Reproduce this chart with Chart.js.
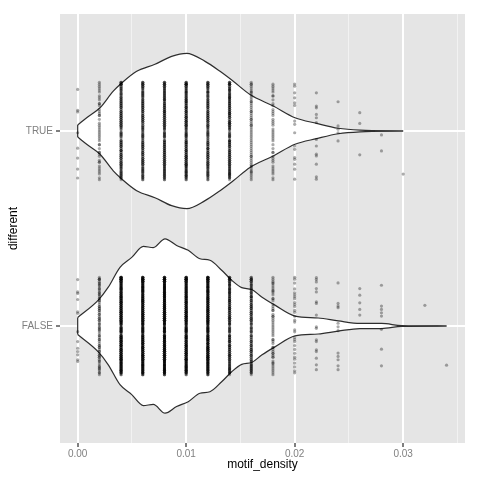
<!DOCTYPE html>
<html>
<head>
<meta charset="utf-8">
<script src="https://cdn.jsdelivr.net/npm/chart.js@4.4.0/dist/chart.umd.min.js"></script>
<style>
  html, body { margin: 0; padding: 0; background: #fff; }
  canvas { display: block; }
</style>
</head>
<body>
<canvas id="myChart" width="480" height="480"></canvas>
<script>
// categories on the y axis (ggplot level order: FALSE = 1, TRUE = 2)
var categories = ['FALSE', 'TRUE'];
var xTicks = [0, 0.005, 0.01, 0.015, 0.02, 0.025, 0.03, 0.035];

// violin outlines: motif_density position and half width (in y-axis units)
var violinXTrue = [0, 0.00083, 0.00206, 0.00328, 0.00406, 0.00544, 0.00712, 0.00866, 0.01005, 0.01174, 0.01312, 0.01434, 0.01588, 0.01803, 0.02003, 0.02203, 0.02402, 0.02602, 0.03];
var violinWTrue = [0.031, 0.068, 0.119, 0.204, 0.246, 0.306, 0.342, 0.383, 0.398, 0.357, 0.306, 0.255, 0.187, 0.128, 0.068, 0.039, 0.014, 0.004, 0];
var violinXFalse = [0, 0.0019, 0.00282, 0.0039, 0.00498, 0.00605, 0.00697, 0.00805, 0.00912, 0.01019, 0.01127, 0.01219, 0.01327, 0.01419, 0.01512, 0.01604, 0.01696, 0.01818, 0.02003, 0.02217, 0.02402, 0.02602, 0.02802, 0.02986, 0.034];
var violinWFalse = [0.044, 0.133, 0.199, 0.301, 0.352, 0.408, 0.402, 0.447, 0.413, 0.388, 0.345, 0.337, 0.286, 0.235, 0.197, 0.187, 0.149, 0.107, 0.051, 0.041, 0.026, 0.013, 0.013, 0.002, 0];

// jittered points: columns of motif_density values
var densitySteps = [0, 0.002, 0.004, 0.006, 0.008, 0.010, 0.012, 0.014, 0.016, 0.018, 0.020, 0.022, 0.024, 0.026, 0.028, 0.030, 0.032, 0.034];
var countsTrue  = [0, 45, 140, 140, 150, 170, 140, 150, 60, 40, 0, 0, 0, 0, 0, 0, 0, 0];
var countsFalse = [0, 80, 260, 260, 280, 260, 260, 160, 130, 55, 30, 0, 0, 0, 0, 0, 0, 0];
// sparse columns, offsets read one by one
var sparseTrue = [
  [0, [0.213, 0.106, 0.098, -0.009, -0.088, -0.139, -0.195, -0.241]],
  [0.020, [0.241, 0.230, 0.196, 0.170, 0.145, 0.131, 0.051, 0.034, -0.009, -0.077, -0.094, -0.136, -0.145, -0.170, -0.196, -0.247]],
  [0.022, [0.196, 0.128, 0.119, 0.085, 0.068, 0.043, -0.043, -0.077, -0.119, -0.128, -0.170, -0.235, -0.247]],
  [0.024, [0.150, 0.026, 0.009, -0.009, -0.051]],
  [0.026, [0.094, 0.039, -0.122]],
  [0.028, [-0.020, -0.102]],
  [0.030, [-0.221]]
];
var sparseFalse = [
  [0, [0.238, 0.175, 0.167, 0.136, 0.073, 0.065, -0.029, -0.080, -0.114, -0.131, -0.148, -0.173, -0.182]],
  [0.022, [0.248, 0.238, 0.226, 0.192, 0.175, 0.124, 0.116, 0.056, -0.004, -0.012, -0.071, -0.080, -0.122, -0.131, -0.165, -0.199, -0.224]],
  [0.024, [0.221, 0.116, 0.102, 0.094, 0.014, -0.004, -0.024, -0.139, -0.156, -0.173, -0.204, -0.224]],
  [0.026, [0.192, 0.158, 0.119, 0.085, 0.056]],
  [0.028, [0.209, 0.102, 0.085, 0.068, 0.051, -0.017, -0.119, -0.204]],
  [0.032, [0.106]],
  [0.034, [-0.201]]
];
// vertical offsets used for the dense columns
var jitter = [
  0.21, -0.13, 0.04, -0.22, 0.17, -0.05, 0.09, -0.18, 0.24, -0.01,
  -0.10, 0.13, -0.24, 0.06, 0.19, -0.15, 0.01, -0.08, 0.23, -0.20,
  0.11, -0.03, 0.15, -0.12, 0.07, -0.23, 0.20, -0.06, 0.02, -0.17,
  0.25, -0.09, 0.12, -0.19, 0.05, 0.18, -0.14, -0.02, 0.22, -0.11,
  0.08, -0.21, 0.14, -0.04, 0.00, -0.16, 0.24, -0.07, 0.10, -0.25,
  0.16, -0.13, 0.03, 0.20, -0.18, 0.06, -0.09, 0.23, -0.01, -0.22,
  0.13, 0.09, -0.15, 0.18, -0.05, 0.01, -0.20, 0.21, -0.11, 0.04,
  -0.24, 0.11, -0.03, 0.17, -0.16, 0.08, 0.25, -0.12, -0.07, 0.14,
  -0.19, 0.02, 0.19, -0.08, 0.22, -0.14, 0.05, -0.23, 0.12, -0.02,
  0.16, -0.17, 0.07, -0.10, 0.24, -0.06, 0.10, -0.21, 0.03, 0.15
];

function buildPoints(center, counts, sparse) {
  var pts = [];
  densitySteps.forEach(function(x, i) {
    var found = sparse.filter(function(s) { return Math.abs(s[0] - x) < 1e-9; })[0];
    if (found) {
      found[1].forEach(function(d) { pts.push({x: x, y: center + d}); });
    } else {
      var start = (i * 37) % jitter.length;
      for (var k = 0; k < counts[i]; k++) {
        pts.push({x: x, y: center + jitter[(start + k) % jitter.length]});
      }
    }
  });
  return pts;
}

function side(xs, ws, center, sign) {
  return xs.map(function(x, i) { return {x: x, y: center + sign * ws[i]}; });
}

var outline = '#2E2E2E';
var lineStyle = {
  showLine: true, pointRadius: 0, borderColor: outline, borderWidth: 1.2,
  cubicInterpolationMode: 'monotone', order: 1
};

var dsets = [
  {data: buildPoints(2, countsTrue, sparseTrue), pointRadius: 1.6, pointBorderWidth: 0,
   pointBackgroundColor: 'rgba(0,0,0,0.33)', order: 0},
  {data: buildPoints(1, countsFalse, sparseFalse), pointRadius: 1.6, pointBorderWidth: 0,
   pointBackgroundColor: 'rgba(0,0,0,0.33)', order: 0},
  Object.assign({data: side(violinXTrue, violinWTrue, 2, 1), fill: 3, backgroundColor: '#FFFFFF'}, lineStyle),
  Object.assign({data: side(violinXTrue, violinWTrue, 2, -1), fill: false}, lineStyle),
  Object.assign({data: [{x: 0, y: 2 - violinWTrue[0]}, {x: 0, y: 2 + violinWTrue[0]}], fill: false}, lineStyle),
  Object.assign({data: side(violinXFalse, violinWFalse, 1, 1), fill: 6, backgroundColor: '#FFFFFF'}, lineStyle),
  Object.assign({data: side(violinXFalse, violinWFalse, 1, -1), fill: false}, lineStyle),
  Object.assign({data: [{x: 0, y: 1 - violinWFalse[0]}, {x: 0, y: 1 + violinWFalse[0]}], fill: false}, lineStyle)
];

function isMajor(v) {
  return Math.abs(v / 0.01 - Math.round(v / 0.01)) < 1e-6;
}

var panelBg = {
  id: 'panelBg',
  beforeDraw: function(chart) {
    var c = chart.ctx, a = chart.chartArea;
    c.save();
    c.fillStyle = '#FFFFFF';
    c.fillRect(0, 0, chart.width, chart.height);
    c.fillStyle = '#E5E5E5';
    c.fillRect(a.left, a.top, a.right - a.left, a.bottom - a.top);
    c.restore();
  }
};

var font = "'Liberation Sans', Arial, Helvetica, sans-serif";
Chart.defaults.font.family = font;

new Chart(document.getElementById('myChart').getContext('2d'), {
  type: 'scatter',
  data: {datasets: dsets},
  plugins: [panelBg],
  options: {
    responsive: false,
    animation: false,
    devicePixelRatio: 1,
    layout: {padding: {top: 14, right: 15, left: 0, bottom: 0}},
    plugins: {
      legend: {display: false},
      tooltip: {enabled: false},
      filler: {drawTime: 'beforeDatasetsDraw'}
    },
    scales: {
      x: {
        type: 'linear',
        min: -0.00163,
        max: 0.0357,
        afterBuildTicks: function(s) { s.ticks = xTicks.map(function(v) { return {value: v}; }); },
        afterFit: function(s) { s.height = 37; },
        border: {display: false},
        grid: {
          color: function(ctx) { return isMajor(ctx.tick.value) ? '#FFFFFF' : '#F2F2F2'; },
          lineWidth: function(ctx) { return isMajor(ctx.tick.value) ? 2 : 1; },
          tickColor: function(ctx) { return isMajor(ctx.tick.value) ? '#7F7F7F' : 'rgba(0,0,0,0)'; },
          tickLength: 4
        },
        ticks: {
          autoSkip: false, maxRotation: 0, padding: 1,
          color: '#7F7F7F', font: {size: 10},
          callback: function(v) { return isMajor(v) ? v.toFixed(2) : ''; }
        },
        title: {display: true, text: 'motif_density', color: '#000000', font: {size: 12}, padding: {top: 0, bottom: 8}}
      },
      y: {
        type: 'linear',
        min: 0.4,
        max: 2.6,
        afterBuildTicks: function(s) { s.ticks = [{value: 1}, {value: 2}]; },
        afterFit: function(s) { s.width = 60; },
        border: {display: false},
        grid: {color: '#FFFFFF', lineWidth: 2, tickColor: '#7F7F7F', tickLength: 4},
        ticks: {
          padding: 3, color: '#7F7F7F', font: {size: 10},
          callback: function(v) { return categories[Math.round(v) - 1]; }
        },
        title: {display: true, text: 'different', color: '#000000', font: {size: 12}, padding: {top: 6, bottom: 0}}
      }
    }
  }
});
</script>
</body>
</html>
